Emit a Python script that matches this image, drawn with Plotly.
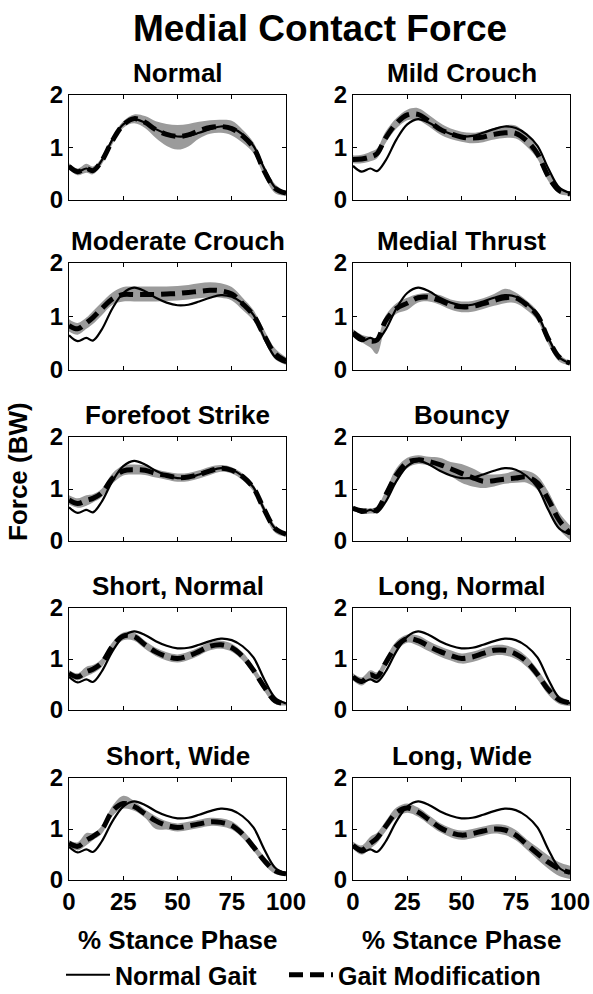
import plotly.graph_objects as go

# ---------------- data ----------------
stance = [0, 4, 8, 11, 15, 20, 25, 30, 35, 40, 45, 50, 55, 60, 65, 70, 75, 80, 85, 90, 95, 100]
x_ticks = [0, 25, 50, 75, 100]
y_ticks = [0, 1, 2]

panel_titles = ["Normal", "Mild Crouch", "Moderate Crouch", "Medial Thrust",
                "Forefoot Strike", "Bouncy", "Short, Normal", "Long, Normal",
                "Short, Wide", "Long, Wide"]

normal_gait = [0.65, 0.54, 0.60, 0.55, 0.75, 1.15, 1.44, 1.54, 1.47, 1.35, 1.26, 1.21, 1.22, 1.28, 1.35, 1.40, 1.37, 1.25, 1.03, 0.60, 0.24, 0.13]

mod_normal = [0.64, 0.54, 0.60, 0.56, 0.74, 1.13, 1.43, 1.55, 1.48, 1.34, 1.25, 1.21, 1.24, 1.32, 1.38, 1.40, 1.36, 1.22, 1.00, 0.55, 0.22, 0.13]
hi_normal = [0.70, 0.60, 0.69, 0.64, 0.80, 1.20, 1.50, 1.63, 1.60, 1.50, 1.45, 1.43, 1.45, 1.49, 1.52, 1.53, 1.51, 1.34, 1.10, 0.65, 0.30, 0.16]
lo_normal = [0.58, 0.47, 0.52, 0.49, 0.67, 1.06, 1.37, 1.46, 1.37, 1.18, 1.03, 0.96, 1.02, 1.17, 1.26, 1.28, 1.23, 1.09, 0.89, 0.45, 0.13, 0.08]

mod_mild = [0.77, 0.78, 0.82, 0.88, 1.18, 1.46, 1.62, 1.63, 1.50, 1.35, 1.26, 1.20, 1.18, 1.20, 1.25, 1.28, 1.27, 1.13, 0.88, 0.45, 0.18, 0.12]
hi_mild = [0.85, 0.86, 0.92, 0.98, 1.30, 1.56, 1.72, 1.75, 1.62, 1.47, 1.36, 1.30, 1.28, 1.31, 1.37, 1.42, 1.42, 1.25, 0.98, 0.55, 0.24, 0.15]
lo_mild = [0.70, 0.70, 0.74, 0.79, 1.08, 1.36, 1.52, 1.52, 1.40, 1.25, 1.16, 1.11, 1.08, 1.10, 1.15, 1.18, 1.17, 1.02, 0.78, 0.36, 0.12, 0.09]

mod_moderate = [0.83, 0.77, 0.88, 0.98, 1.14, 1.33, 1.41, 1.41, 1.41, 1.41, 1.42, 1.43, 1.45, 1.47, 1.49, 1.48, 1.42, 1.24, 1.02, 0.64, 0.30, 0.17]
hi_moderate = [0.95, 0.88, 0.98, 1.10, 1.26, 1.45, 1.55, 1.56, 1.56, 1.56, 1.56, 1.57, 1.59, 1.62, 1.64, 1.62, 1.55, 1.35, 1.12, 0.75, 0.40, 0.24]
lo_moderate = [0.72, 0.66, 0.77, 0.86, 1.02, 1.22, 1.28, 1.28, 1.28, 1.28, 1.29, 1.30, 1.32, 1.34, 1.36, 1.35, 1.30, 1.12, 0.92, 0.54, 0.20, 0.10]

mod_thrust = [0.70, 0.59, 0.54, 0.56, 0.92, 1.15, 1.25, 1.35, 1.36, 1.30, 1.22, 1.18, 1.19, 1.24, 1.30, 1.35, 1.35, 1.22, 1.02, 0.58, 0.24, 0.13]
hi_thrust = [0.76, 0.66, 0.62, 0.60, 1.02, 1.25, 1.35, 1.42, 1.44, 1.40, 1.32, 1.28, 1.29, 1.34, 1.42, 1.52, 1.45, 1.30, 1.10, 0.66, 0.30, 0.16]
lo_thrust = [0.64, 0.52, 0.42, 0.30, 0.80, 1.05, 1.12, 1.26, 1.28, 1.22, 1.13, 1.08, 1.09, 1.14, 1.20, 1.25, 1.25, 1.12, 0.92, 0.48, 0.16, 0.09]

mod_forefoot = [0.79, 0.72, 0.78, 0.82, 0.92, 1.20, 1.35, 1.37, 1.36, 1.30, 1.26, 1.22, 1.23, 1.28, 1.35, 1.40, 1.36, 1.24, 1.02, 0.60, 0.24, 0.13]
hi_forefoot = [0.88, 0.82, 0.88, 0.90, 1.00, 1.30, 1.45, 1.47, 1.45, 1.38, 1.33, 1.30, 1.31, 1.36, 1.43, 1.46, 1.42, 1.30, 1.08, 0.68, 0.30, 0.16]
lo_forefoot = [0.70, 0.64, 0.68, 0.74, 0.84, 1.10, 1.26, 1.28, 1.27, 1.22, 1.18, 1.14, 1.15, 1.20, 1.27, 1.33, 1.30, 1.17, 0.95, 0.52, 0.16, 0.08]

mod_bouncy = [0.63, 0.58, 0.58, 0.60, 0.88, 1.27, 1.51, 1.56, 1.53, 1.47, 1.39, 1.30, 1.22, 1.15, 1.16, 1.19, 1.21, 1.23, 1.12, 0.80, 0.40, 0.15]
hi_bouncy = [0.68, 0.63, 0.63, 0.66, 0.96, 1.40, 1.60, 1.65, 1.62, 1.60, 1.52, 1.48, 1.40, 1.30, 1.28, 1.30, 1.35, 1.35, 1.25, 0.95, 0.55, 0.30]
lo_bouncy = [0.58, 0.53, 0.53, 0.55, 0.78, 1.12, 1.40, 1.48, 1.45, 1.36, 1.25, 1.12, 1.05, 1.02, 1.05, 1.10, 1.12, 1.12, 0.98, 0.62, 0.22, 0.02]

mod_short_normal = [0.72, 0.65, 0.75, 0.80, 0.92, 1.25, 1.45, 1.44, 1.28, 1.14, 1.05, 1.01, 1.06, 1.15, 1.25, 1.28, 1.22, 1.05, 0.78, 0.45, 0.18, 0.12]
hi_short_normal = [0.78, 0.72, 0.85, 0.88, 1.00, 1.33, 1.52, 1.52, 1.36, 1.22, 1.13, 1.09, 1.14, 1.23, 1.33, 1.36, 1.30, 1.13, 0.86, 0.53, 0.24, 0.15]
lo_short_normal = [0.66, 0.58, 0.66, 0.72, 0.84, 1.17, 1.37, 1.36, 1.20, 1.06, 0.97, 0.93, 0.98, 1.07, 1.17, 1.20, 1.14, 0.97, 0.70, 0.37, 0.12, 0.09]

mod_long_normal = [0.65, 0.56, 0.69, 0.65, 0.92, 1.25, 1.40, 1.36, 1.25, 1.15, 1.07, 1.01, 1.04, 1.11, 1.17, 1.17, 1.10, 0.95, 0.70, 0.40, 0.20, 0.14]
hi_long_normal = [0.72, 0.64, 0.78, 0.74, 1.02, 1.35, 1.48, 1.46, 1.35, 1.25, 1.17, 1.11, 1.14, 1.21, 1.27, 1.27, 1.20, 1.05, 0.80, 0.50, 0.28, 0.18]
lo_long_normal = [0.58, 0.48, 0.60, 0.56, 0.82, 1.15, 1.32, 1.26, 1.15, 1.05, 0.97, 0.91, 0.94, 1.01, 1.07, 1.07, 1.00, 0.85, 0.60, 0.30, 0.12, 0.08]

mod_short_wide = [0.72, 0.66, 0.78, 0.85, 0.98, 1.35, 1.50, 1.44, 1.30, 1.16, 1.07, 1.03, 1.06, 1.10, 1.14, 1.13, 1.07, 0.90, 0.65, 0.38, 0.18, 0.12]
hi_short_wide = [0.78, 0.74, 0.92, 0.92, 1.06, 1.45, 1.65, 1.55, 1.38, 1.25, 1.15, 1.11, 1.14, 1.18, 1.22, 1.21, 1.15, 0.98, 0.73, 0.46, 0.24, 0.15]
lo_short_wide = [0.66, 0.58, 0.68, 0.78, 0.90, 1.25, 1.40, 1.36, 1.22, 1.00, 0.99, 0.95, 0.98, 1.02, 1.06, 1.05, 0.99, 0.82, 0.57, 0.30, 0.12, 0.08]

mod_long_wide = [0.68, 0.59, 0.72, 0.82, 1.05, 1.32, 1.41, 1.33, 1.18, 1.03, 0.93, 0.88, 0.91, 0.96, 1.00, 0.98, 0.88, 0.70, 0.52, 0.35, 0.22, 0.15]
hi_long_wide = [0.75, 0.68, 0.85, 0.92, 1.15, 1.42, 1.50, 1.42, 1.27, 1.12, 1.02, 0.97, 1.00, 1.05, 1.09, 1.08, 0.98, 0.80, 0.64, 0.48, 0.35, 0.28]
lo_long_wide = [0.61, 0.50, 0.62, 0.72, 0.95, 1.22, 1.32, 1.24, 1.09, 0.94, 0.84, 0.79, 0.82, 0.87, 0.91, 0.88, 0.78, 0.60, 0.40, 0.22, 0.08, 0.02]

mods = [mod_normal, mod_mild, mod_moderate, mod_thrust, mod_forefoot,
        mod_bouncy, mod_short_normal, mod_long_normal, mod_short_wide, mod_long_wide]
his = [hi_normal, hi_mild, hi_moderate, hi_thrust, hi_forefoot,
       hi_bouncy, hi_short_normal, hi_long_normal, hi_short_wide, hi_long_wide]
los = [lo_normal, lo_mild, lo_moderate, lo_thrust, lo_forefoot,
       lo_bouncy, lo_short_normal, lo_long_normal, lo_short_wide, lo_long_wide]

# ---------------- layout geometry ----------------
W, H = 593, 994
col_px = [(69, 286), (353, 570)]
row_px = [(95, 200), (263, 370), (437, 541), (608, 710), (778, 880)]

FONT = "Liberation Sans, Arial, Helvetica, sans-serif"
BAND = "#9b9b9b"

fig = go.Figure()
layout_axes = {}

for i in range(10):
    r, c = divmod(i, 2)
    n = i + 1
    xa = "x" if n == 1 else f"x{n}"
    ya = "y" if n == 1 else f"y{n}"
    xkey = "xaxis" if n == 1 else f"xaxis{n}"
    ykey = "yaxis" if n == 1 else f"yaxis{n}"
    x0, x1 = col_px[c]
    t, b = row_px[r]

    fig.add_trace(go.Scatter(x=stance, y=los[i], mode="lines", line=dict(width=0, color=BAND, shape="spline"),
                             showlegend=False, hoverinfo="skip", xaxis=xa, yaxis=ya))
    fig.add_trace(go.Scatter(x=stance, y=his[i], mode="lines", line=dict(width=0, color=BAND, shape="spline"),
                             fill="tonexty", fillcolor=BAND, showlegend=False, hoverinfo="skip",
                             xaxis=xa, yaxis=ya))
    fig.add_trace(go.Scatter(x=stance, y=normal_gait, mode="lines", name="Normal Gait",
                             line=dict(color="black", width=2.2, shape="spline"),
                             showlegend=(i == 0), legend="legend", xaxis=xa, yaxis=ya))
    fig.add_trace(go.Scatter(x=stance, y=mods[i], mode="lines", name="Gait Modification",
                             line=dict(color="black", width=5, dash="14px,7px", shape="spline"),
                             showlegend=(i == 0), legend="legend2", xaxis=xa, yaxis=ya))

    common = dict(showline=True, linecolor="black", linewidth=1, mirror="ticks",
                  ticks="inside", ticklen=4, tickwidth=1, tickcolor="black",
                  showgrid=False, zeroline=False, automargin=False,
                  tickfont=dict(family=FONT, size=24, color="black", weight="bold"))
    layout_axes[xkey] = dict(domain=[x0 / W, x1 / W], range=[0, 100], anchor=ya,
                             tickvals=x_ticks, showticklabels=(r == 4), **common)
    layout_axes[ykey] = dict(domain=[1 - b / H, 1 - t / H], range=[0, 2], anchor=xa,
                             tickvals=y_ticks, **common)

annotations = []
for i, title in enumerate(panel_titles):
    r, c = divmod(i, 2)
    x0, x1 = col_px[c]
    t, b = row_px[r]
    annotations.append(dict(text=title, x=(x0 + x1) / 2 / W, y=1 - (t - 22) / H,
                            xref="paper", yref="paper", xanchor="center", yanchor="middle",
                            showarrow=False,
                            font=dict(family=FONT, size=26, color="black", weight="bold")))
for c in range(2):
    x0, x1 = col_px[c]
    annotations.append(dict(text="% Stance Phase", x=(x0 + x1) / 2 / W, y=1 - 940 / H,
                            xref="paper", yref="paper", xanchor="center", yanchor="middle",
                            showarrow=False,
                            font=dict(family=FONT, size=26, color="black", weight="bold")))
annotations.append(dict(text="Force (BW)", x=18 / W, y=1 - 472 / H, textangle=-90,
                        xref="paper", yref="paper", xanchor="center", yanchor="middle",
                        showarrow=False,
                        font=dict(family=FONT, size=26, color="black", weight="bold")))

legend_common = dict(orientation="h", xanchor="left", y=1 - 975 / H, yanchor="middle",
                     font=dict(family=FONT, size=25, color="black", weight="bold"),
                     itemwidth=44, bgcolor="rgba(0,0,0,0)")

fig.update_layout(
    width=W, height=H,
    margin=dict(l=0, r=0, t=0, b=0, autoexpand=False),
    paper_bgcolor="white", plot_bgcolor="white",
    title=dict(text="Medial Contact Force", x=320 / W, xanchor="center", xref="paper",
               y=1 - 28 / H, yanchor="middle", yref="paper", automargin=False,
               font=dict(family=FONT, size=37, color="black", weight="bold")),
    showlegend=True,
    legend=dict(x=61 / W, **legend_common),
    legend2=dict(x=284 / W, **legend_common),
    annotations=annotations,
    **layout_axes,
)

fig.write_html("out.html", config={"displayModeBar": False},
               post_script="document.body.style.margin='0px';document.body.style.padding='0px';")
